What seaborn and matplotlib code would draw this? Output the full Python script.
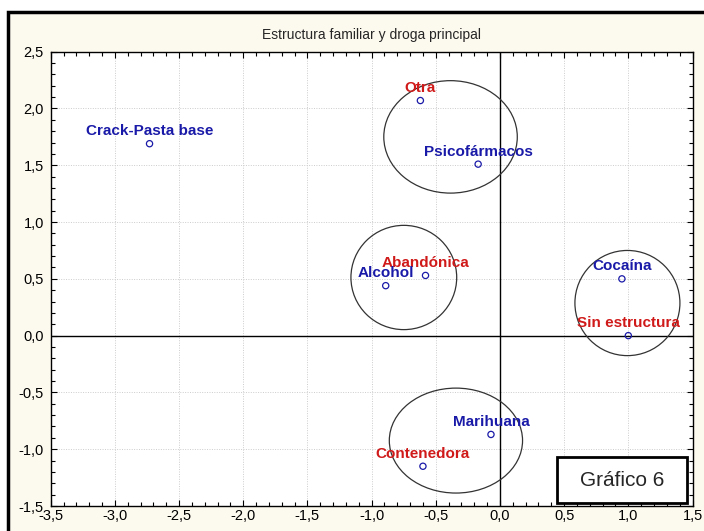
import pandas as pd
import seaborn as sns
import matplotlib.pyplot as plt
from matplotlib.patches import Ellipse, Rectangle
from matplotlib.ticker import MultipleLocator, FuncFormatter

# points of the correspondence map
names = ['Crack-Pasta base', 'Otra', 'Psicofármacos', 'Abandónica', 'Alcohol',
         'Cocaína', 'Sin estructura', 'Marihuana', 'Contenedora']
dim1 = [-2.73, -0.62, -0.17, -0.58, -0.89, 0.95, 1.00, -0.07, -0.60]
dim2 = [1.69, 2.07, 1.51, 0.53, 0.44, 0.50, 0.00, -0.87, -1.15]
group = ['droga', 'familia', 'droga', 'familia', 'droga',
         'droga', 'familia', 'droga', 'familia']

# circled clusters: centre x, centre y, width, height
circ_x = [-0.385, -0.749, 0.993, -0.343]
circ_y = [1.75, 0.512, 0.287, -0.924]
circ_w = [1.04, 0.824, 0.818, 1.038]
circ_h = [0.99, 0.918, 0.926, 0.924]

df = pd.DataFrame({'Nombre': names, 'Dim1': dim1, 'Dim2': dim2, 'Grupo': group})

sns.set_style("ticks")
plt.rcParams['font.family'] = ['Liberation Sans', 'DejaVu Sans']

fig = plt.figure(figsize=(7.04, 5.31), dpi=100, facecolor='white')
# cream panel with the black frame
fig.add_artist(Rectangle((8 / 704, -0.2), 1.2, 1.2 - 12 / 531, transform=fig.transFigure,
                         facecolor='#fcf9ee', edgecolor='black', lw=2.5, zorder=0))
ax = fig.add_axes([50.7 / 704, 1 - 506 / 531, (692.5 - 50.7) / 704, (506 - 51.7) / 531])
ax.set_facecolor('white')

ax.axhline(0, color='black', lw=1, zorder=1)
ax.axvline(0, color='black', lw=1, zorder=1)

for cx, cy, w, h in zip(circ_x, circ_y, circ_w, circ_h):
    ax.add_patch(Ellipse((cx, cy), w, h, fill=False, edgecolor='#333333', lw=0.9, zorder=2))

sns.scatterplot(data=df, x='Dim1', y='Dim2', ax=ax, marker='o', s=20,
                facecolor='none', edgecolor='#1a1aa8', linewidth=0.9, zorder=3, legend=False)

colors = {'droga': '#1a1aa8', 'familia': '#d01a1a'}
for _, r in df.iterrows():
    ax.annotate(r['Nombre'], (r['Dim1'], r['Dim2']), xytext=(0, 9), textcoords='offset points',
                ha='center', va='center', fontsize=11, fontweight='bold',
                color=colors[r['Grupo']], zorder=4)

ax.set_xlim(-3.5, 1.5)
ax.set_ylim(-1.5, 2.5)
ax.xaxis.set_major_locator(MultipleLocator(0.5))
ax.yaxis.set_major_locator(MultipleLocator(0.5))
ax.xaxis.set_minor_locator(MultipleLocator(0.1))
ax.yaxis.set_minor_locator(MultipleLocator(0.1))
fmt = FuncFormatter(lambda v, p: f'{v:.1f}'.replace('.', ',').replace('-0,0', '0,0'))
ax.xaxis.set_major_formatter(fmt)
ax.yaxis.set_major_formatter(fmt)
ax.tick_params(which='both', direction='in', top=True, right=True, colors='black', labelsize=10.5)
ax.tick_params(which='major', length=4, width=0.8)
ax.tick_params(which='minor', length=3, width=0.8)
ax.tick_params(axis='x', pad=2)
ax.tick_params(axis='y', pad=5)
ax.grid(True, which='major', ls=(0, (1, 1.5)), color='#cccccc', lw=0.7)
for s in ax.spines.values():
    s.set_color('black')
    s.set_linewidth(1)
ax.set_xlabel('')
ax.set_ylabel('')
ax.set_title('Estructura familiar y droga principal', fontsize=10, pad=9)

# "Gráfico 6" label box
ax.add_patch(Rectangle((0.789, 0.0066), 0.2025, 0.1013, transform=ax.transAxes,
                       facecolor='white', edgecolor='black', lw=2, zorder=5))
ax.text(0.890, 0.057, 'Gráfico 6', transform=ax.transAxes, ha='center', va='center',
        fontsize=15, zorder=6)

fig.savefig('out.png', dpi=100, facecolor=fig.get_facecolor())
